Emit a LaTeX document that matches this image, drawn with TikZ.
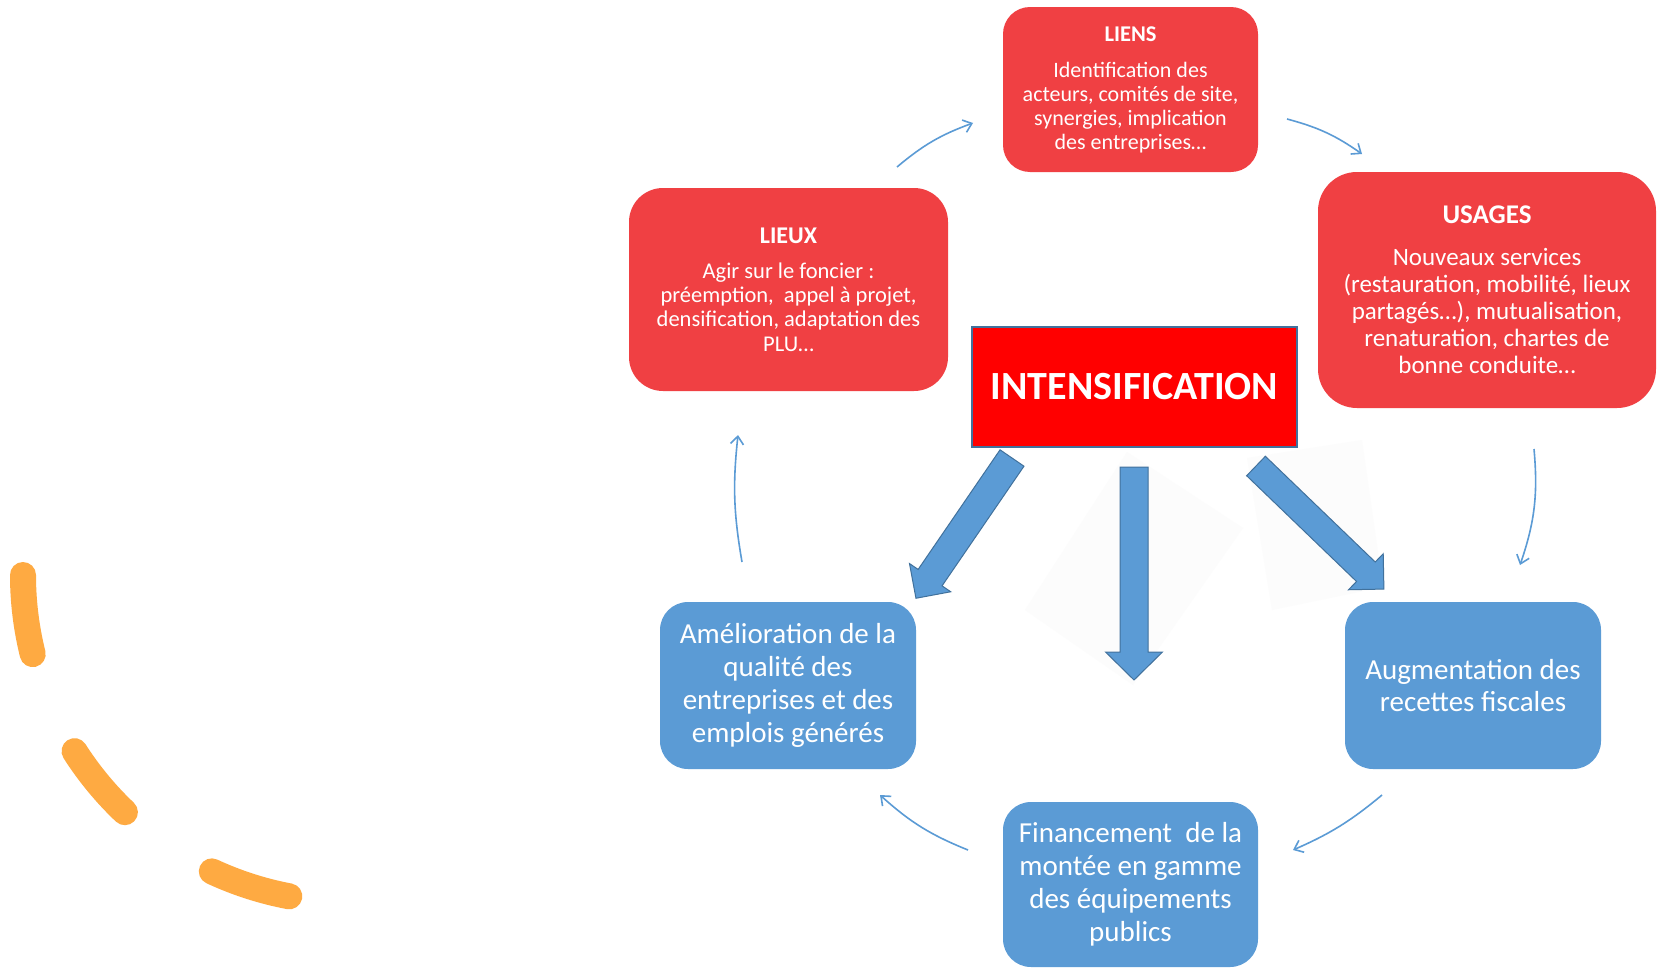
\documentclass[tikz,border=0pt]{standalone}
\usepackage{fontspec}
\setmainfont{Carlito}
\usetikzlibrary{arrows.meta}
\definecolor{boxred}{RGB}{240,64,67}
\definecolor{boxblue}{RGB}{91,155,213}
\definecolor{darkblue}{RGB}{65,113,156}
\definecolor{orangeline}{RGB}{254,170,66}
\definecolor{faintgray}{RGB}{252,252,252}
\newcommand{\blkarrow}[6]{%
  \begin{scope}[shift={#1},rotate=#2]
    \filldraw[bigarrow] (0,{-#4}) -- ({#3-#6},{-#4}) -- ({#3-#6},{-#5}) -- (#3,0)
      -- ({#3-#6},#5) -- ({#3-#6},#4) -- (0,#4) -- cycle;
  \end{scope}}
\begin{document}
\begin{tikzpicture}[x=1pt,y=1pt,
  redbox/.style={fill=boxred, text=white, align=center, inner sep=0pt, rounded corners=#1},
  redbox/.default=30pt,
  bluebox/.style={fill=boxblue, text=white, align=center, inner sep=0pt, rounded corners=28pt,
    minimum width=256pt, minimum height=167pt, font=\fontsize{29}{33}\selectfont},
  bigarrow/.style={fill=boxblue, draw=darkblue, line width=1pt, line join=miter},
  cycarrow/.style={draw=boxblue, line width=1.6pt, -{Straight Barb[length=8pt,width=13pt,line width=1.6pt]}},
  orangedash/.style={draw=orangeline, line width=26pt, line cap=round},
  faintshape/.style={fill=faintgray, draw=none}]
\useasboundingbox (0,0) rectangle (1662,-969);
\fill[white] (0,0) rectangle (1662,-969);

% faint background shapes
\fill[faintshape] (1127,-452) -- (1243,-528) -- (1133,-685) -- (1025,-610) -- cycle;
\fill[faintshape] (1247,-458) -- (1362,-440) -- (1383,-587) -- (1272,-610) -- cycle;

% orange dashed arc
\draw[orangedash] ([shift={(180:327)}]350,-575) arc[start angle=180,end angle=194,radius=327];
\draw[orangedash] ([shift={(212.6:327)}]350,-575) arc[start angle=212.6,end angle=226.5,radius=327];
\draw[orangedash] ([shift={(245:327)}]350,-575) arc[start angle=245,end angle=259.3,radius=327];

% red boxes
\node[redbox=27pt, minimum width=255pt, minimum height=165pt, font=\fontsize{22}{24}\selectfont] (liens) at (1130.5,-89.5)
  {{\fontsize{22.5}{24}\selectfont\bfseries LIENS}\\[12pt]
   Identification des\\ acteurs, comités de site,\\ synergies, implication\\ des entreprises…};
\node[redbox=34pt, minimum width=319pt, minimum height=203pt, font=\fontsize{22.5}{24.3}\selectfont] (lieux) at (788.5,-289.5)
  {{\fontsize{24}{24.3}\selectfont\bfseries LIEUX}\\[11pt]
   Agir sur le foncier :\\ préemption,\ \ appel à projet,\\ densification, adaptation des\\ PLU…};
\node[redbox=39pt, minimum width=338pt, minimum height=236pt, font=\fontsize{25}{27}\selectfont] (usages) at (1487,-290)
  {{\fontsize{27}{27}\selectfont\bfseries USAGES}\\[15pt]
   Nouveaux services\\ (restauration, mobilité, lieux\\ partagés…), mutualisation,\\ renaturation, chartes de\\ bonne conduite…};

% central box
\node[fill=red, draw=darkblue, line width=2pt, minimum width=325pt, minimum height=120pt, inner sep=0pt,
  text=white, font=\fontsize{40}{44}\selectfont\bfseries] (intens) at (1134.5,-387) {INTENSIFICATION};

% blue boxes
\node[bluebox] (amelio) at (788,-685.5) {Amélioration de la\\ qualité des\\ entreprises et des\\ emplois générés};
\node[bluebox, font=\fontsize{29}{32}\selectfont] (augm) at (1473,-685.5) {Augmentation des\\ recettes fiscales};
\node[bluebox, minimum width=255pt, minimum height=165pt] (finan) at (1130.5,-884.5) {Financement\ \ de la\\ montée en gamme\\ des équipements\\ publics};

% big block arrows
\blkarrow{(1012,-458)}{-124.4}{170}{14.5}{25}{25}
\blkarrow{(1134,-467)}{-90}{213}{14}{28.5}{28}
\blkarrow{(1256,-466)}{-43.9}{177.5}{13.5}{25}{25}

% cycle connectors
\coordinate (c1s) at (897,-167);  \coordinate (c1e) at (973,-123);
\coordinate (c2s) at (1287,-119); \coordinate (c2e) at (1362,-154);
\coordinate (c3s) at (1534,-449); \coordinate (c3e) at (1520,-565);
\coordinate (c4s) at (1382,-795); \coordinate (c4e) at (1293,-850);
\coordinate (c5s) at (968,-850);  \coordinate (c5e) at (880,-795);
\coordinate (c6s) at (742,-562);  \coordinate (c6e) at (738,-435);
\draw[cycarrow] (c1s) to[bend left=10] (c1e);
\draw[cycarrow] (c2s) to[bend left=10] (c2e);
\draw[cycarrow] (c3s) to[bend left=12] (c3e);
\draw[cycarrow] (c4s) to[bend left=8] (c4e);
\draw[cycarrow] (c5s) to[bend left=10] (c5e);
\draw[cycarrow] (c6s) to[bend left=8] (c6e);
\end{tikzpicture}
\end{document}
